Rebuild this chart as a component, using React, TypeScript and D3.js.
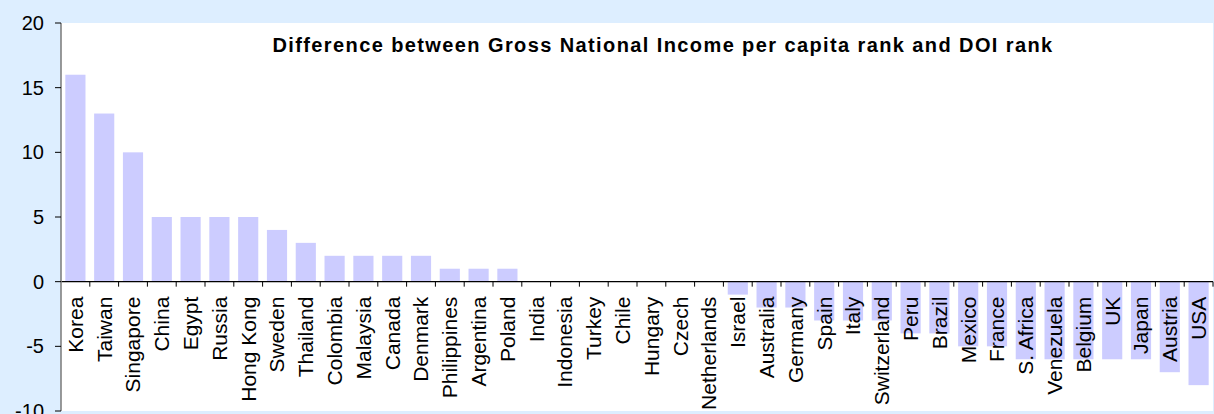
import React from "react";
import * as d3 from "d3";

const countries = [
  "Korea", "Taiwan", "Singapore", "China", "Egypt", "Russia", "Hong Kong", "Sweden",
  "Thailand", "Colombia", "Malaysia", "Canada", "Denmark", "Philippines", "Argentina", "Poland",
  "India", "Indonesia", "Turkey", "Chile", "Hungary", "Czech", "Netherlands", "Israel",
  "Australia", "Germany", "Spain", "Italy", "Switzerland", "Peru", "Brazil", "Mexico",
  "France", "S. Africa", "Venezuela", "Belgium", "UK", "Japan", "Austria", "USA",
];
const rankDiff = [
  16, 13, 10, 5, 5, 5, 5, 4,
  3, 2, 2, 2, 2, 1, 1, 1,
  0, 0, 0, 0, 0, 0, 0, -1,
  -2, -2, -3, -3, -3, -4, -4, -5,
  -5, -6, -6, -6, -6, -6, -7, -8,
];
const yTicks = [-10, -5, 0, 5, 10, 15, 20];
const title = "Difference between Gross National Income per capita rank and DOI rank";

const W = 1214;
const H = 414;
const plot = { left: 61, right: 1213, top: 23, bottom: 411 };

export default function App() {
  const x = d3.scaleBand<string>().domain(countries).range([plot.left, plot.right]).paddingInner(0.3).paddingOuter(0.15);
  const y = d3.scaleLinear().domain([-10, 20]).range([plot.bottom, plot.top]);
  const bandStep = x.step();
  const y0 = y(0);
  return (
    <svg width={W} height={H} style={{ position: "absolute", left: 0, top: 0, display: "block" }} fontFamily="Arial, 'Liberation Sans', sans-serif">
      <rect x={0} y={0} width={W} height={H} fill="#DDEEFF" />
      <rect x={plot.left} y={plot.top} width={plot.right - plot.left} height={plot.bottom - plot.top} fill="#FFFFFF" />
      {countries.map((c, i) => {
        const v = rankDiff[i];
        const bx = x(c)!;
        return (
          <rect key={c} x={bx} y={Math.min(y(v), y0)} width={x.bandwidth()} height={Math.abs(y(v) - y0)} fill="#CCCCFF" />
        );
      })}
      <text x={663} y={51.5} textAnchor="middle" fontWeight="bold" fontSize={20} letterSpacing={1.4} fill="#000">{title}</text>
      {/* zero axis line */}
      <line x1={plot.left} x2={plot.right} y1={y0} y2={y0} stroke="#000" strokeWidth={1.3} />
      {countries.map((c, i) => {
        const tx = plot.left + bandStep * (i + 1);
        return <line key={"t" + c} x1={tx} x2={tx} y1={y0} y2={y0 + 5} stroke="#000" strokeWidth={1} />;
      })}
      {countries.map((c) => {
        const cx = x(c)! + x.bandwidth() / 2;
        const ty = y0 + 15;
        return (
          <text key={"l" + c} transform={`translate(${cx},${ty}) rotate(-90)`} textAnchor="end" dy="0.35em" fontSize={21} fill="#000">{c}</text>
        );
      })}
      {/* y axis */}
      <line x1={plot.left} x2={plot.left} y1={plot.top} y2={plot.bottom} stroke="#808080" strokeWidth={1.6} />
      {yTicks.map((t) => (
        <g key={t}>
          <line x1={plot.left - 6} x2={plot.left} y1={y(t)} y2={y(t)} stroke="#000" strokeWidth={1} />
          <text x={44} y={y(t)} dy="0.35em" textAnchor="end" fontSize={20} fill="#000">{t}</text>
        </g>
      ))}
    </svg>
  );
}
